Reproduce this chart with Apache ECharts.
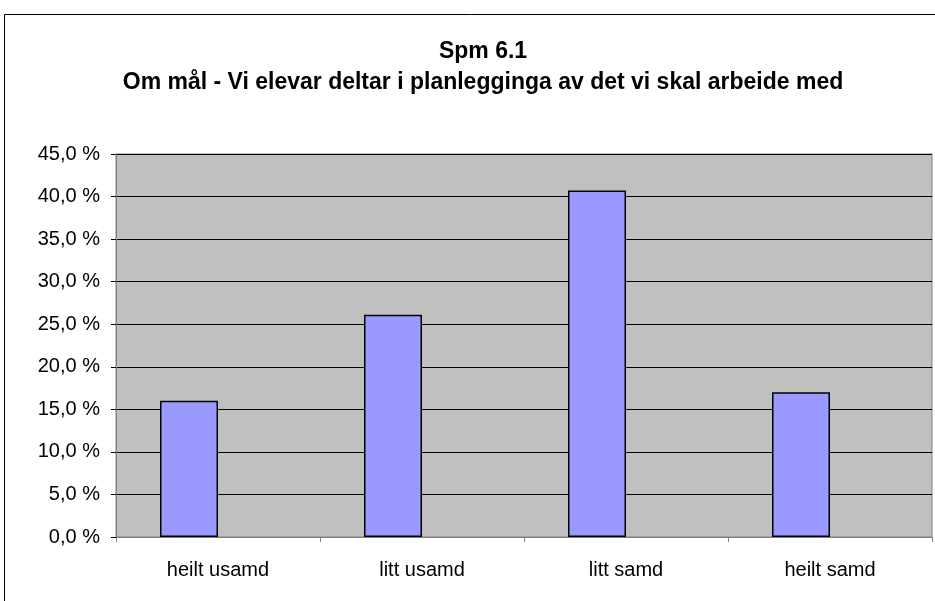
<!DOCTYPE html>
<html>
<head>
<meta charset="utf-8">
<script src="https://cdn.jsdelivr.net/npm/echarts@6/dist/echarts.min.js"></script>
<style>
  html, body { margin: 0; padding: 0; background: #fff; }
  #chart { width: 935px; height: 601px; }
</style>
</head>
<body>
<div id="chart"></div>
<script>
const categories = ['heilt usamd', 'litt usamd', 'litt samd', 'heilt samd']
const shares = [16.0, 26.1, 40.7, 17.0]
// the original sheet had a second, empty series beside each bar
const emptySeries = [null, null, null, null]
const yMin = 0
const yMax = 45
const yStep = 5

const font = '"Liberation Sans", Arial, sans-serif'
const chart = echarts.init(document.getElementById('chart'))

chart.setOption({
  animation: false,
  backgroundColor: '#fff',
  textStyle: { fontFamily: font },
  graphic: [{
    type: 'rect',
    shape: { x: 4.5, y: 14.5, width: 1000, height: 1000 },
    style: { fill: 'none', stroke: '#000', lineWidth: 1 },
    silent: true
  }],
  title: {
    text: 'Spm 6.1\nOm mål - Vi elevar deltar i planlegginga av det vi skal arbeide med',
    left: 478,
    top: 31,
    textAlign: 'center',
    textStyle: {
      fontFamily: font,
      fontSize: 23,
      fontWeight: 'bold',
      color: '#000',
      lineHeight: 31
    }
  },
  grid: {
    left: 116,
    right: 3,
    top: 154,
    bottom: 64,
    show: true,
    backgroundColor: '#c0c0c0',
    borderColor: '#808080',
    borderWidth: 1
  },
  xAxis: {
    type: 'category',
    data: categories,
    axisLine: { lineStyle: { color: '#808080', width: 1 } },
    axisTick: { show: true, alignWithLabel: false, length: 5, lineStyle: { color: '#808080' } },
    axisLabel: { color: '#000', fontSize: 20, fontFamily: font, margin: 23 },
    splitLine: { show: false }
  },
  yAxis: {
    type: 'value',
    min: yMin,
    max: yMax,
    interval: yStep,
    axisLine: { show: true, lineStyle: { color: '#808080', width: 1 } },
    axisTick: { show: true, length: 5, lineStyle: { color: '#000' } },
    axisLabel: {
      color: '#000',
      fontSize: 20,
      fontFamily: font,
      margin: 16,
      formatter: v => v.toFixed(1).replace('.', ',') + ' %'
    },
    splitLine: { show: true, lineStyle: { color: '#000', width: 1 } }
  },
  series: [{
    type: 'bar',
    data: shares,
    barWidth: 58,
    barGap: '0%',
    itemStyle: { color: '#9999ff', borderColor: '#000', borderWidth: 1.5 }
  }, {
    type: 'bar',
    data: emptySeries,
    barWidth: 58,
    barGap: '0%',
    itemStyle: { color: '#993366' }
  }]
})
</script>
</body>
</html>
